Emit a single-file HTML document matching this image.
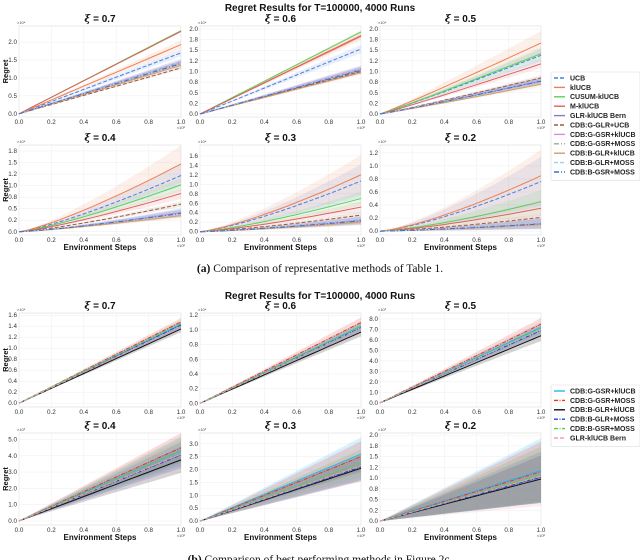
<!DOCTYPE html>
<html><head><meta charset="utf-8"><style>
body{margin:0;background:#fff;}
svg{display:block;font-family:"Liberation Sans","DejaVu Sans",sans-serif;}
.tk{font-size:6.3px;fill:#333;}
.ttl{font-size:10px;font-weight:bold;fill:#111;}
.ax{font-size:8px;font-weight:bold;fill:#111;}
.lg{font-size:7px;font-weight:bold;fill:#222;}
.cap{font-family:"Liberation Serif",serif;font-size:11.5px;fill:#111;}
</style></head><body>
<svg id="fig" width="640" height="560" viewBox="0 0 640 560" xmlns="http://www.w3.org/2000/svg">
<text class="ttl" x="320" y="11" text-anchor="middle">Regret Results for T=100000, 4000 Runs</text>
<text class="cap" x="320" y="272" text-anchor="middle"><tspan font-weight="bold">(a)</tspan> Comparison of representative methods of Table 1.</text>
<text class="ttl" x="320" y="299" text-anchor="middle">Regret Results for T=100000, 4000 Runs</text>
<text class="cap" x="320" y="563" text-anchor="middle"><tspan font-weight="bold">(b)</tspan> Comparison of best performing methods in Figure 2c.</text>
<g id="panels"></g>
<g id="legends"></g>
</svg>
<script>
// ---- Data ----
const xTicks = [0, 0.2, 0.4, 0.6, 0.8, 1.0];
const xTickLabels = ["0.0","0.2","0.4","0.6","0.8","1.0"];
const namesA = ["UCB","klUCB","CUSUM-klUCB","M-klUCB","GLR-klUCB Bern","CDB:G-GLR+UCB","CDB:G-GSR+klUCB","CDB:G-GSR+MOSS","CDB:B-GLR+klUCB","CDB:B-GLR+MOSS","CDB:B-GSR+MOSS"];
const namesB = ["CDB:G-GSR+klUCB","CDB:G-GSR+MOSS","CDB:B-GLR+klUCB","CDB:B-GLR+MOSS","CDB:B-GSR+MOSS","GLR-klUCB Bern"];
const titles = ["0.7","0.6","0.5","0.4","0.3","0.2"];
const finalA07 = [1.70,1.93,2.32,2.30,1.45,1.28,1.45,1.42,1.35,1.45,1.40];
const finalA06 = [1.53,1.85,1.93,1.83,1.05,1.00,1.07,1.04,0.97,1.06,1.03];
const finalA05 = [1.38,1.67,1.42,1.18,0.78,0.85,0.80,0.78,0.70,0.80,0.77];
const finalA04 = [1.22,1.47,1.02,0.83,0.42,0.60,0.42,0.40,0.35,0.44,0.40];
const finalA03 = [1.07,1.20,0.70,0.52,0.25,0.35,0.24,0.22,0.20,0.26,0.23];
const finalA02 = [0.76,0.85,0.45,0.35,0.12,0.21,0.12,0.11,0.10,0.13,0.11];
const bandA07 = [0.10,0.12,0.02,0.03,0.08,0.04,0.08,0.08,0.05,0.08,0.08];
const bandA06 = [0.10,0.12,0.03,0.05,0.08,0.04,0.08,0.08,0.05,0.08,0.08];
const bandA05 = [0.15,0.28,0.15,0.10,0.08,0.06,0.08,0.08,0.06,0.08,0.08];
const bandA04 = [0.25,0.40,0.15,0.12,0.08,0.06,0.08,0.08,0.06,0.08,0.08];
const bandA03 = [0.35,0.42,0.15,0.12,0.08,0.06,0.08,0.08,0.06,0.08,0.08];
const bandA02 = [0.38,0.40,0.18,0.12,0.08,0.06,0.08,0.08,0.06,0.08,0.08];
const finalB07 = [1.43,1.48,1.35,1.42,1.45,1.40];
const finalB06 = [1.05,1.10,0.97,1.03,1.05,1.02];
const finalB05 = [7.2,7.5,6.4,6.9,7.1,7.0];
const finalB04 = [4.3,4.5,3.75,4.05,4.3,4.1];
const finalB03 = [2.6,2.5,2.05,2.1,2.25,2.15];
const finalB02 = [1.18,1.15,0.98,1.02,1.08,1.05];
const bandB07 = [0.06,0.07,0.06,0.06,0.06,0.08];
const bandB06 = [0.06,0.07,0.06,0.06,0.06,0.08];
const bandB05 = [0.5,0.6,0.5,0.5,0.5,0.6];
const bandB04 = [0.9,0.9,0.8,0.8,0.8,0.9];
const bandB03 = [0.65,0.6,0.5,0.5,0.55,0.6];
const bandB02 = [0.75,0.7,0.55,0.6,0.65,0.7];
const yTicksA07 = [0,0.5,1.0,1.5,2.0]; const yLabA07 = ["0.0","0.5","1.0","1.5","2.0"];
const yTicksQ = [0,0.25,0.5,0.75,1.0,1.25,1.5,1.75,2.0]; const yLabQ = ["0.0","0.2","0.5","0.8","1.0","1.2","1.5","1.8","2.0"];
const yTicksF = [0,0.2,0.4,0.6,0.8,1.0,1.2,1.4,1.6]; const yLabF = ["0.0","0.2","0.4","0.6","0.8","1.0","1.2","1.4","1.6"];
const yTicksI = [0,1,2,3,4,5,6,7,8]; const yLabI = ["0.0","1.0","2.0","3.0","4.0","5.0","6.0","7.0","8.0"];
const yTicksH = [0,0.5,1.0,1.5,2.0,2.5,3.0]; const yLabH = ["0.0","0.5","1.0","1.5","2.0","2.5","3.0"];

const colA = ["#4a7fdc","#f07f4f","#5ccf5c","#e06060","#8080c0","#9a5a40","#e088d0","#a0a0a0","#d4a060","#9cd0f0","#3a6ed0"];
const dashA = ["4,2","","","","","4,2","","5,2,1,2","","4,2","5,2,1,2"];
const colB = ["#20b8f0","#f03030","#111111","#2040f0","#50d050","#f0a0a0"];
const dashB = ["","4,1.5,1,1.5","","4,1.5,1,1.5","4,1.5,1,1.5","4,2"];
const SVGNS = "http://www.w3.org/2000/svg";
const root = document.getElementById("panels");
function mk(tag, attrs, parent){const e=document.createElementNS(SVGNS,tag);for(const k in attrs)e.setAttribute(k,attrs[k]);(parent||root).appendChild(e);return e;}

const colsX = [[19,181],[200,361],[380,541]];
const panels = [
 {sec:"a",col:0,top:26,bot:117,ymin:-0.09,ymax:2.45,yt:yTicksA07,yl:yLabA07,f:finalA07,b:bandA07,p:1.0,exp:"4",xl:false,yLabel:true,t:0},
 {sec:"a",col:1,top:26,bot:117,ymin:-0.07,ymax:2.07,yt:yTicksQ,yl:yLabQ,f:finalA06,b:bandA06,p:1.0,exp:"4",xl:false,yLabel:false,t:1},
 {sec:"a",col:2,top:26,bot:117,ymin:-0.07,ymax:2.07,yt:yTicksQ,yl:yLabQ,f:finalA05,b:bandA05,p:1.05,exp:"4",xl:false,yLabel:false,t:2},
 {sec:"a",col:0,top:145,bot:235,ymin:-0.07,ymax:1.88,yt:yTicksQ.slice(0,8),yl:yLabQ.slice(0,8),f:finalA04,b:bandA04,p:1.25,exp:"4",xl:true,yLabel:true,t:3},
 {sec:"a",col:1,top:145,bot:235,ymin:-0.07,ymax:1.83,yt:yTicksF,yl:yLabF,f:finalA03,b:bandA03,p:1.3,exp:"4",xl:true,yLabel:false,t:4},
 {sec:"a",col:2,top:145,bot:235,ymin:-0.06,ymax:1.32,yt:yTicksF.slice(0,7),yl:yLabF.slice(0,7),f:finalA02,b:bandA02,p:1.35,exp:"4",xl:true,yLabel:false,t:5},
 {sec:"b",col:0,top:313,bot:407,ymin:-0.07,ymax:1.64,yt:yTicksF,yl:yLabF,f:finalB07,b:bandB07,p:1.0,exp:"4",xl:false,yLabel:true,t:0},
 {sec:"b",col:1,top:313,bot:407,ymin:-0.05,ymax:1.23,yt:yTicksF.slice(0,7),yl:yLabF.slice(0,7),f:finalB06,b:bandB06,p:1.0,exp:"4",xl:false,yLabel:false,t:1},
 {sec:"b",col:2,top:313,bot:407,ymin:-0.4,ymax:8.57,yt:yTicksI,yl:yLabI,f:finalB05,b:bandB05,p:1.0,exp:"3",xl:false,yLabel:false,t:2},
 {sec:"b",col:0,top:433,bot:525,ymin:-0.25,ymax:5.4,yt:yTicksI.slice(0,6),yl:yLabI.slice(0,6),f:finalB04,b:bandB04,p:1.0,exp:"3",xl:true,yLabel:true,t:3},
 {sec:"b",col:1,top:433,bot:525,ymin:-0.15,ymax:3.42,yt:yTicksH,yl:yLabH,f:finalB03,b:bandB03,p:1.0,exp:"3",xl:true,yLabel:false,t:4},
 {sec:"b",col:2,top:433,bot:525,ymin:-0.09,ymax:2.05,yt:yTicksQ,yl:yLabQ,f:finalB02,b:bandB02,p:1.0,exp:"3",xl:true,yLabel:false,t:5}
];

panels.forEach((P,pi)=>{
  const [x0,x1]=colsX[P.col];
  const g=mk("g",{});
  
  
  const xs=v=>x0+(x1-x0)*v;
  const ys=v=>P.bot-(P.bot-P.top)*(v-P.ymin)/(P.ymax-P.ymin);
  const bg=mk("rect",{x:x0,y:P.top,width:x1-x0,height:P.bot-P.top,fill:"#fff",stroke:"#ddd","stroke-width":0.6},g);
  
  
  xTicks.forEach((t,i)=>{
    const gl=mk("line",{x1:xs(t),x2:xs(t),y1:P.top,y2:P.bot,stroke:"#eee","stroke-width":0.5},g);
    
    
    const tl=mk("text",{x:xs(t),y:P.bot+7,class:"tk","text-anchor":"middle"},g);tl.textContent=xTickLabels[i];
    
    
  });
  P.yt.forEach((t,i)=>{
    const gl=mk("line",{x1:x0,x2:x1,y1:ys(t),y2:ys(t),stroke:"#eee","stroke-width":0.5},g);
    
    
    const tl=mk("text",{x:x0-2,y:ys(t)+2,class:"tk","text-anchor":"end"},g);tl.textContent=P.yl[i];
    
    
  });
  const ey=mk("text",{x:x0-2,y:P.top-2,style:"font-size:4px;fill:#444"},g);ey.textContent="×10"+(P.exp==="4"?"⁴":"³");
  
  
  const ex=mk("text",{x:x1,y:P.bot+12,style:"font-size:4px;fill:#444","text-anchor":"middle"},g);ex.textContent="×10⁵";
  
  
  const tt=mk("text",{x:(x0+x1)/2,y:P.top-4,class:"ttl","text-anchor":"middle"},g);
  tt.innerHTML='<tspan font-style="italic" font-family="DejaVu Serif, serif">ξ</tspan> = '+titles[P.t];
  
  
  if(P.xl){const xl=mk("text",{x:(x0+x1)/2,y:P.bot+15,class:"ax","text-anchor":"middle"},g);xl.textContent="Environment Steps";
    
    }
  if(P.yLabel){const yc=(P.top+P.bot)/2;const yl=mk("text",{x:8,y:yc,class:"ax","text-anchor":"middle",transform:"rotate(-90 8 "+yc+")",style:"font-size:7.5px"},g);yl.textContent="Regret";
    
    }
  const cols=P.sec==="a"?colA:colB, dashes=P.sec==="a"?dashA:dashB, names=P.sec==="a"?namesA:namesB;
  const N=20;
  P.f.forEach((v,si)=>{
    let up="",dn="";
    for(let k=0;k<=N;k++){const x=k/N, s=Math.pow(x,P.p);up+=(k?"L":"M")+xs(x).toFixed(1)+","+ys((v+P.b[si])*s).toFixed(1);}
    for(let k=N;k>=0;k--){const x=k/N, s=Math.pow(x,P.p);dn+="L"+xs(x).toFixed(1)+","+ys(Math.max(0,(v-P.b[si]))*s).toFixed(1);}
    const b=mk("path",{d:up+dn+"Z",fill:cols[si],"fill-opacity":P.sec==="a"?0.12:0.18,stroke:"none"},g);
    
    
  });
  P.f.forEach((v,si)=>{
    let d="";
    for(let k=0;k<=N;k++){const x=k/N;d+=(k?"L":"M")+xs(x).toFixed(1)+","+ys(v*Math.pow(x,P.p)).toFixed(1);}
    const l=mk("path",{d:d,fill:"none",stroke:cols[si],"stroke-width":1,"stroke-dasharray":dashes[si]||"none"},g);
    
    
  });
});

const lgRoot=document.getElementById("legends");
function legend(x,y,w,names,cols,dashes,nm){
  const g=mk("g",{},lgRoot);
  
  
  mk("rect",{x:x,y:y,width:w,height:names.length*9.4+5,fill:"#fff",stroke:"#ddd","stroke-width":0.6,rx:1.5},g);
  names.forEach((n,i)=>{
    const yy=y+6+i*9.4;
    const sw=mk("line",{x1:x+3,x2:x+14,y1:yy,y2:yy,stroke:cols[i],"stroke-width":1.4,"stroke-dasharray":dashes[i]||"none"},g);
    
    
    const t=mk("text",{x:x+19,y:yy+2.4,class:"lg"},g);t.textContent=n;
    
    
  });
}
legend(551,72,89,namesA,colA,dashA,"legend-a");
legend(551,385,89,namesB,colB,dashB,"legend-b");
</script>
</body></html>
